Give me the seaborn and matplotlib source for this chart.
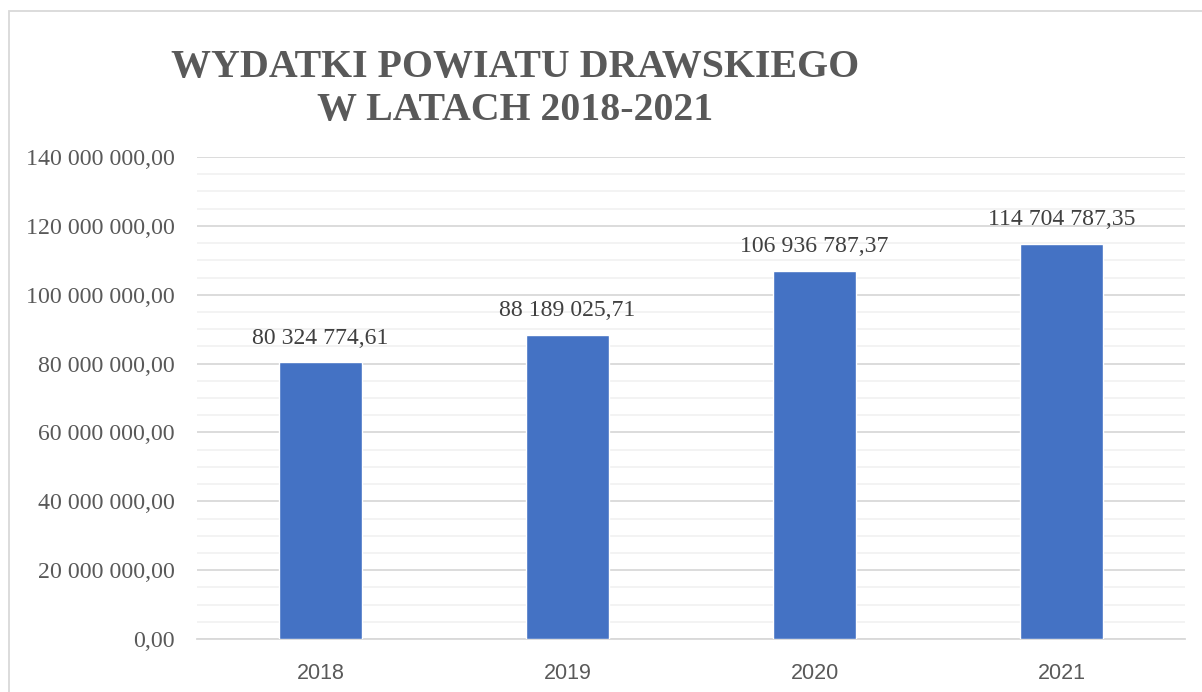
import matplotlib
matplotlib.use("Agg")
import matplotlib.pyplot as plt
import matplotlib.ticker as mticker
from matplotlib.patches import Rectangle
import seaborn as sns
import pandas as pd

years = ["2018", "2019", "2020", "2021"]
values = [80324774.61, 88189025.71, 106936787.37, 114704787.35]
value_labels = ["80 324 774,61", "88 189 025,71", "106 936 787,37", "114 704 787,35"]
y_ticks = [0, 20e6, 40e6, 60e6, 80e6, 100e6, 120e6, 140e6]
y_tick_labels = ["0,00", "20 000 000,00", "40 000 000,00", "60 000 000,00",
                 "80 000 000,00", "100 000 000,00", "120 000 000,00", "140 000 000,00"]
title = "WYDATKI POWIATU DRAWSKIEGO\nW LATACH 2018-2021"

sns.set_theme(style="white")
df = pd.DataFrame({"year": years, "value": values})

W, H = 1202, 692
fig = plt.figure(figsize=(W / 100, H / 100), dpi=100)
fig.patch.set_facecolor("white")
ax = fig.add_axes([197 / W, 1 - 639 / H, (1185 - 197) / W, (639 - 157) / H])

sns.barplot(data=df, x="year", y="value", color="#4472C4", width=0.336,
            saturation=1, ax=ax, zorder=3)

ax.set_ylim(0, 140e6)
ax.set_xlim(-0.5, 3.5)
ax.yaxis.set_minor_locator(mticker.MultipleLocator(5e6))
ax.set_yticks(y_ticks)
ax.set_yticklabels(y_tick_labels, family="Liberation Serif", fontsize=17.2, color="#595959")
ax.set_xticks(range(len(years)))
ax.set_xticklabels(years, family="Liberation Sans", fontsize=15.5, color="#595959")
ax.grid(which="major", axis="y", color="#D9D9D9", linewidth=1.3, zorder=0)
ax.grid(which="minor", axis="y", color="#F2F2F2", linewidth=1.3, zorder=0)
ax.set_axisbelow(True)
for s in ["top", "right", "left"]:
    ax.spines[s].set_visible(False)
ax.spines["bottom"].set_color("#D9D9D9")
ax.spines["bottom"].set_linewidth(1.3)
ax.tick_params(axis="y", which="both", length=0, pad=16)
ax.tick_params(axis="x", which="both", length=0, pad=17)
ax.set_xlabel("")
ax.set_ylabel("")

for i, (v, lab) in enumerate(zip(values, value_labels)):
    ax.annotate(lab, (i, v), xytext=(0, 10), textcoords="offset points",
                ha="center", va="bottom", family="Liberation Serif",
                fontsize=17.1, color="#404040")

fig.text(515 / W, 1 - 89 / H, title, ha="center", va="center",
         family="Liberation Serif", fontweight="bold", fontsize=28.7,
         color="#595959", linespacing=1.18)

fig.patches.append(Rectangle((9 / W, -0.1), 1.2, 1.1 - 11 / H, transform=fig.transFigure,
                             fill=False, edgecolor="#D9D9D9", linewidth=1.3))

fig.savefig("out.png", dpi=100, facecolor="white")
